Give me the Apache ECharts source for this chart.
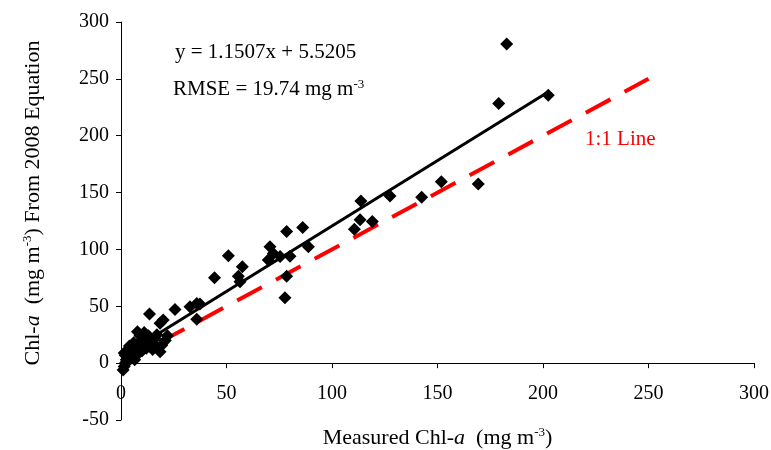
<!DOCTYPE html>
<html>
<head>
<meta charset="utf-8">
<script src="https://cdn.jsdelivr.net/npm/echarts@6/dist/echarts.min.js"></script>
<style>
  html, body { margin: 0; padding: 0; background: #fff; }
  #chart { width: 771px; height: 450px; }
</style>
</head>
<body>
<div id="chart"></div>
<script>
// measured Chl-a vs Chl-a from 2008 equation
const measured = [
  182.8, 202.5, 179.0, 169.3, 151.8, 142.5, 127.5, 113.7, 113.3, 119.1,
  110.6, 86.1, 78.5, 88.8, 70.6, 72.2, 69.8, 75.4, 80.1, 77.7,
  78.5, 57.5, 55.6, 56.4, 50.9, 44.3, 35.9, 32.7, 37.4, 25.6,
  35.9, 20.0, 18.5, 13.5, 7.8, 16.9, 18.5, 19.3, 15.2,
  1.0, 1.5, 2.0, 2.5, 2.0, 3.0, 3.5, 4.0, 4.5, 5.0,
  5.0, 6.0, 6.5, 7.0, 7.5, 8.0, 8.5, 9.0, 10.0, 10.5,
  11.0, 12.0, 12.5, 13.0, 14.0, 15.0, 16.0, 17.0, 3.0, 4.0,
  1.5, 6.0, 9.0, 11.0, 22.0, 21.0
];
const predicted = [
  280.6, 235.5, 228.4, 157.6, 159.6, 145.8, 147.0, 142.5, 126.0, 124.6,
  117.7, 119.3, 115.8, 102.3, 102.3, 96.5, 90.6, 93.8, 94.1, 57.5,
  76.5, 84.7, 76.5, 71.5, 94.4, 75.2, 52.5, 49.5, 52.0, 47.2,
  38.6, 38.0, 35.0, 43.2, 27.5, 14.3, 10.0, 15.8, 20.0,
  -6, -3, 0, 3, 7, 1, 6, 4, 10, 7,
  13, 9, 3, 12, 16, 8, 14, 18, 11, 21,
  15, 13, 19, 24, 17, 12, 22, 25, 11, 15,
  9, 18, 24, 27, 24, 20
];

// y = 1.1507x + 5.5205 drawn across the measured range
const fitLine = [[1, 6.67], [203, 239.1]];
const oneToOne = [[0, 0], [250, 250]];

const xTicks = { min: 0, max: 300, interval: 50 };
const yTicks = { min: -50, max: 300, interval: 50 };

const serif = '"Liberation Serif", "Times New Roman", serif';

const points = measured.map((m, i) => [m, predicted[i]]);

var chart = echarts.init(document.getElementById("chart"));

var option = {
  animation: false,
  backgroundColor: "#fff",
  grid: {
    left: 121,
    right: 17,
    top: 22,
    bottom: 30,
    containLabel: false,
    outerBoundsMode: "none"
  },
  xAxis: {
    type: "value",
    min: xTicks.min,
    max: xTicks.max,
    interval: xTicks.interval,
    name: "{n|Measured Chl-}{i|a}{n|  (mg m}{s|-3}{n|)}",
    nameLocation: "middle",
    nameGap: 6,
    nameTextStyle: {
      rich: {
        n: { fontFamily: serif, fontSize: 22, color: "#000" },
        i: { fontFamily: serif, fontSize: 22, fontStyle: "italic", color: "#000" },
        s: { fontFamily: serif, fontSize: 13, color: "#000", verticalAlign: "top", padding: [0, 0, 11, 0] }
      }
    },
    axisLine: { onZero: true, lineStyle: { color: "#000", width: 1 } },
    axisTick: { show: true, inside: false, length: 5, lineStyle: { color: "#000" } },
    axisLabel: {
      margin: -36,
      color: "#000",
      fontFamily: serif,
      fontSize: 20
    },
    splitLine: { show: false }
  },
  yAxis: {
    type: "value",
    min: yTicks.min,
    max: yTicks.max,
    interval: yTicks.interval,
    name: "{n|Chl-}{i|a}{n|  (mg m}{s|-3}{n|) From 2008 Equation}",
    nameLocation: "middle",
    nameGap: 76,
    nameTextStyle: {
      padding: [0, 0, 0, 36],
      rich: {
        n: { fontFamily: serif, fontSize: 22, color: "#000" },
        i: { fontFamily: serif, fontSize: 22, fontStyle: "italic", color: "#000" },
        s: { fontFamily: serif, fontSize: 13, color: "#000", verticalAlign: "top", padding: [0, 0, 11, 0] }
      }
    },
    axisLine: { show: true, lineStyle: { color: "#000", width: 1 } },
    axisTick: { show: true, inside: false, length: 5, lineStyle: { color: "#000" } },
    axisLabel: {
      margin: 12,
      color: "#000",
      fontFamily: serif,
      fontSize: 20
    },
    splitLine: { show: false }
  },
  graphic: [
    {
      type: "text",
      left: 175,
      top: 42,
      style: {
        text: "y = 1.1507x + 5.5205",
        font: "21px " + serif,
        fill: "#000"
      }
    },
    {
      type: "text",
      left: 173,
      top: 78,
      style: {
        text: "{n|RMSE = 19.74 mg m}{s|-3}",
        rich: {
          n: { fontFamily: serif, fontSize: 21, fill: "#000" },
          s: { fontFamily: serif, fontSize: 13, fill: "#000", verticalAlign: "top", padding: [0, 0, 10, 0] }
        }
      }
    },
    {
      type: "text",
      left: 585,
      top: 129,
      style: {
        text: "1:1 Line",
        font: "21px " + serif,
        fill: "#ff0000"
      }
    }
  ],
  series: [
    {
      type: "line",
      name: "1:1",
      data: oneToOne,
      showSymbol: false,
      symbol: "none",
      lineStyle: { color: "#ff0000", width: 4, type: [28, 16], cap: "butt" },
      z: 2
    },
    {
      type: "line",
      name: "fit",
      data: fitLine,
      showSymbol: false,
      symbol: "none",
      lineStyle: { color: "#000", width: 3 },
      z: 3
    },
    {
      type: "scatter",
      name: "points",
      data: points,
      symbol: "diamond",
      symbolSize: 13,
      itemStyle: { color: "#000", opacity: 1 },
      z: 4
    }
  ]
};

chart.setOption(option);
</script>
</body>
</html>
